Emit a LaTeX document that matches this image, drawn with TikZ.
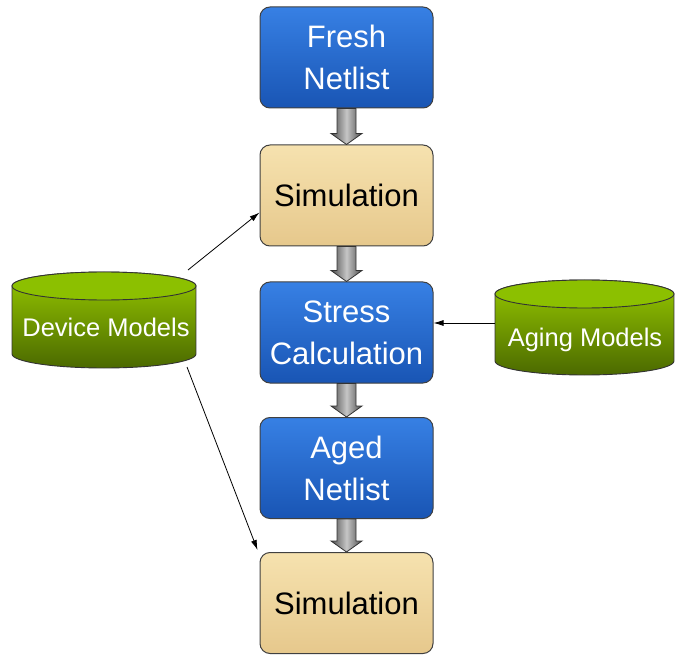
\documentclass[tikz,border=0pt]{standalone}
\usepackage{fontspec}
\setmainfont{Liberation Sans}
\usetikzlibrary{calc,arrows.meta}
\definecolor{blueT}{RGB}{55,128,228}
\definecolor{blueB}{RGB}{25,85,180}
\definecolor{tanT}{RGB}{246,226,175}
\definecolor{tanB}{RGB}{230,200,140}
\definecolor{grT}{RGB}{150,200,0}
\definecolor{grB}{RGB}{75,105,0}
\definecolor{grE}{RGB}{140,192,0}
\newcommand\thickarrow[2]{%
  \path[thickarr] let \p1=(#1.south), \p2=(#2.north) in
    (\x1-9.5pt,\y1) -- (\x1-9.5pt,\y2+11pt) -- (\x1-15.5pt,\y2+11pt) -- (\x1,\y2)
    -- (\x1+15.5pt,\y2+11pt) -- (\x1+9.5pt,\y2+11pt) -- (\x1+9.5pt,\y1) -- cycle;}
\begin{document}
\begin{tikzpicture}[x=1pt,y=-1pt,
  box/.style={rectangle, rounded corners=10pt, draw=black!75, line width=1pt,
    minimum width=173pt, minimum height=101pt, align=center,
    font=\fontsize{31}{42}\selectfont, inner sep=0pt},
  bluebox/.style={box, top color=blueT, bottom color=blueB, text=white},
  tanbox/.style={box, top color=tanT, bottom color=tanB, text=black},
  cylbody/.style={draw=black!80, line width=0.9pt, top color=grT, bottom color=grB},
  cyltop/.style={draw=black!80, line width=0.9pt, fill=grE},
  cyltext/.style={text=white, font=\fontsize{25.5}{30}\selectfont, inner sep=0pt},
  thickarr/.style={draw=black!80, line width=0.8pt, left color=gray!60!black,
    right color=gray!60!black, middle color=gray!45},
  thin/.style={draw=black, line width=0.8pt, -{Latex[length=10pt,width=6pt]}}
]
\useasboundingbox (0,0) rectangle (675,655);

% boxes
\node[bluebox] (fresh) at (346.5,57.5) {Fresh\\Netlist};
\node[tanbox] (sim1) at (346.5,195.5) {Simulation};
\node[bluebox] (stress) at (346.5,332.5) {Stress\\Calculation};
\node[bluebox] (aged) at (346.5,468) {Aged\\Netlist};
\node[tanbox] (sim2) at (346.5,603) {Simulation};

% thick arrows
\thickarrow{fresh}{sim1}
\thickarrow{sim1}{stress}
\thickarrow{stress}{aged}
\thickarrow{aged}{sim2}

% Device Models cylinder
\path[cylbody] (12,286) -- (12,354)
  arc[start angle=180, end angle=0, x radius=92, y radius=14]
  -- (196,286)
  arc[start angle=0, end angle=-180, x radius=92, y radius=14] -- cycle;
\path[cyltop] (104,286) ellipse[x radius=92, y radius=14];
\node[cyltext] (dev) at (106,327) {Device Models};

% Aging Models cylinder
\path[cylbody] (495,294) -- (495,361)
  arc[start angle=180, end angle=0, x radius=89.5, y radius=14]
  -- (674,294)
  arc[start angle=0, end angle=-180, x radius=89.5, y radius=14] -- cycle;
\path[cyltop] (584.5,294) ellipse[x radius=89.5, y radius=14];
\node[cyltext] (aging) at (585,340) {Aging Models};

% thin arrows
\coordinate (d1) at (188,270);
\coordinate (d2) at (187,367);
\coordinate (a1) at (495,323);
\draw[thin] (d1) -- ($(sim1.west)+(0,17)$);
\draw[thin] (d2) -- ($(sim2.north west)+(-2,-2)$);
\draw[thin] (a1) -- (stress.east |- a1);
\end{tikzpicture}
\end{document}
